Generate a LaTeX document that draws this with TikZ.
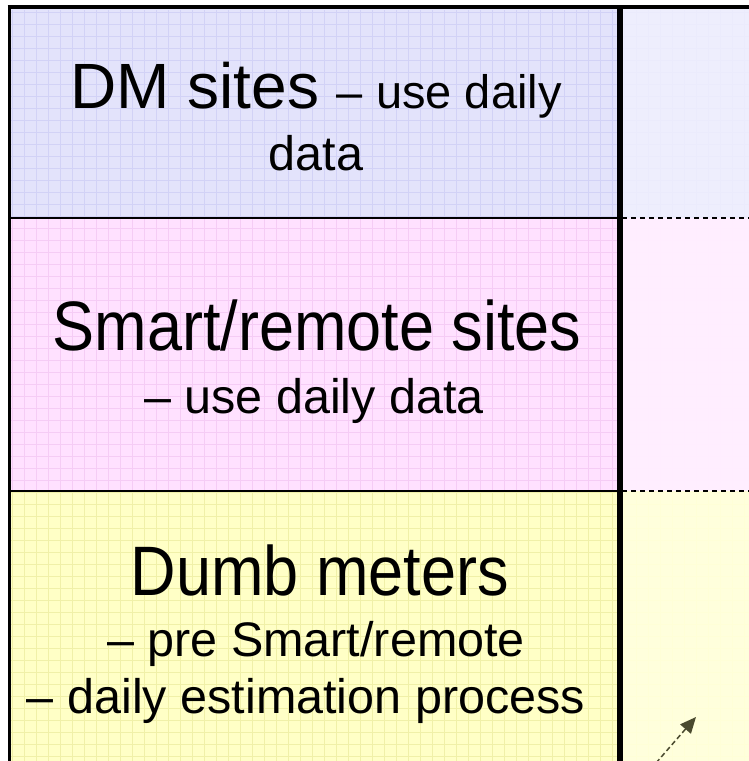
\documentclass[tikz,border=0pt]{standalone}
\usepackage{graphicx}
\usepackage{fontspec}
\setmainfont{Liberation Sans}
\usetikzlibrary{arrows.meta}
\definecolor{topL}{HTML}{E3E3FB}
\definecolor{topR}{HTML}{EEEEFD}
\definecolor{midL}{HTML}{FFE1FF}
\definecolor{midR}{HTML}{FFEEFF}
\definecolor{botL}{HTML}{FFFFC6}
\definecolor{botR}{HTML}{FFFFDC}
\definecolor{gridT}{HTML}{D2D2F6}
\definecolor{gridM}{HTML}{F5CCF5}
\definecolor{gridB}{HTML}{F0F0A8}
\definecolor{arrowc}{HTML}{4A4A2E}
\tikzset{
  bigtxt/.style={anchor=base,inner sep=0pt,font=\fontsize{70}{76}\selectfont},
  dmtxt/.style={anchor=base,inner sep=0pt,font=\fontsize{64}{70}\selectfont},
  smalltxt/.style={anchor=base,inner sep=0pt,font=\fontsize{48.5}{52}\selectfont},
  gridline/.style={line width=0.6pt},
  sepline/.style={line width=2pt,black},
  dashsep/.style={line width=1.3pt,black,dash pattern=on 5pt off 4pt},
}
\begin{document}
\begin{tikzpicture}[x=1pt,y=-1pt]
\useasboundingbox (0,0) rectangle (749,761);
\fill[white] (0,0) rectangle (749,761);
% fills
\fill[topL] (9,7) rectangle (619,218);
\fill[midL] (9,218) rectangle (619,491);
\fill[botL] (9,491) rectangle (619,761);
\fill[topR] (619,7) rectangle (749,218);
\fill[midR] (619,218) rectangle (749,491);
\fill[botR] (619,491) rectangle (749,761);
% grids
\begin{scope}
\clip (10,10) rectangle (617,218);
\draw[gridline,gridT,step=12pt] (0,0) grid (617,218);
\end{scope}
\begin{scope}
\clip (10,219) rectangle (617,490);
\draw[gridline,gridM,step=12pt] (0,218) grid (617,491);
\end{scope}
\begin{scope}
\clip (10,492) rectangle (617,761);
\draw[gridline,gridB,step=12pt] (0,491) grid (617,761);
\end{scope}
\begin{scope}
\clip (622,10) rectangle (749,218);
\draw[gridline,topL!70!white,step=12pt] (620,0) grid (749,218);
\end{scope}
\begin{scope}
\clip (622,219) rectangle (749,490);
\draw[gridline,midL!60!white,step=12pt] (620,218) grid (749,491);
\end{scope}
\begin{scope}
\clip (622,492) rectangle (749,761);
\draw[gridline,botL!70!white,step=12pt] (620,491) grid (749,761);
\end{scope}
% frame
\draw[line width=3pt,black] (9,761) -- (9,7) -- (749,7);
\draw[line width=4pt,black] (7.5,7) -- (749,7);
\draw[line width=6pt,black] (619.5,5) -- (619.5,761);
\draw[sepline] (9,218) -- (617,218);
\draw[sepline] (9,491) -- (617,491);
\draw[dashsep] (622,218) -- (749,218);
\draw[dashsep] (622,491) -- (749,491);
% texts
\node[dmtxt] (dm1) at (316,108) {DM sites {\fontsize{47}{52}\selectfont -- use daily}};
\node[smalltxt] (dm2) at (316,170) {data};
\node[bigtxt] (sm1) at (317,350) {\scalebox{0.9}[1]{Smart/remote sites}};
\node[smalltxt] (sm2) at (314,413) {-- use daily data};
\node[bigtxt] (du1) at (320,595) {\scalebox{0.9}[1]{Dumb meters}};
\node[smalltxt] (du2) at (316,656) {-- pre Smart/remote};
\node[smalltxt] (du3) at (306,713) {-- daily estimation process};
% arrow
\coordinate (as) at (656,763);
\coordinate (ae) at (696,717);
\draw[arrowc,line width=1.5pt,dash pattern=on 5pt off 3pt,-{Triangle[length=16pt,width=14pt]}] (as) -- (ae);
\end{tikzpicture}
\end{document}
